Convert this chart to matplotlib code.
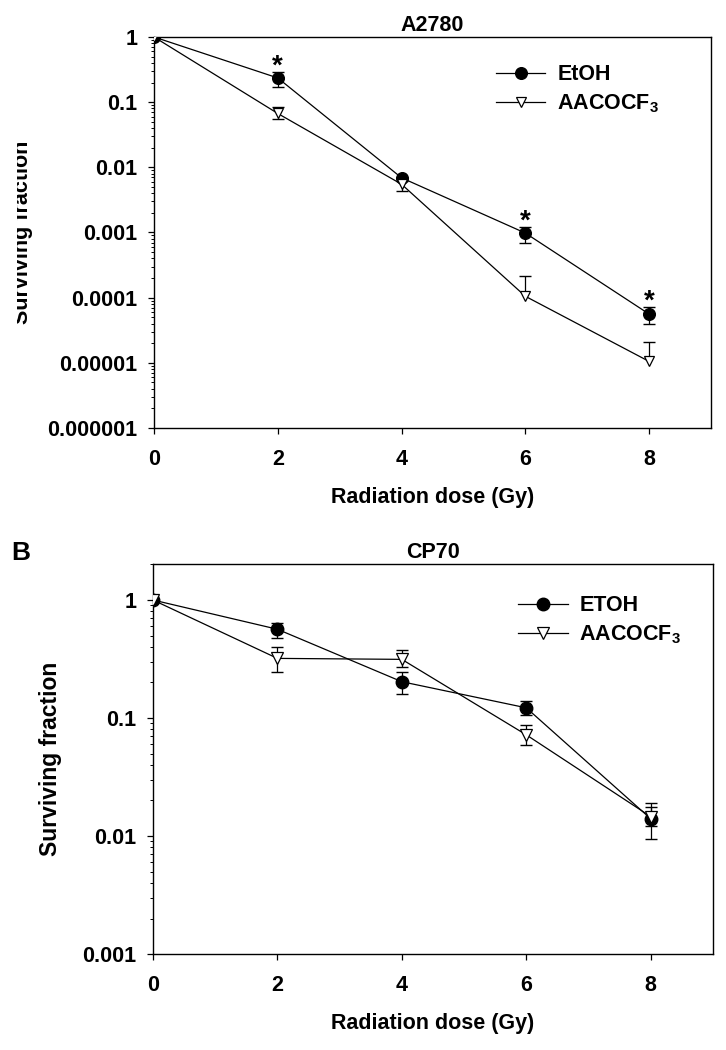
import numpy as np
import matplotlib
matplotlib.use("Agg")
import matplotlib.pyplot as plt
from matplotlib.patches import Rectangle
from matplotlib.ticker import FixedLocator, FixedFormatter, LogLocator, NullFormatter

plt.rcParams['font.family'] = ['Liberation Sans', 'DejaVu Sans']
plt.rcParams['font.weight'] = 'bold'
plt.rcParams['mathtext.fontset'] = 'custom'
plt.rcParams['mathtext.rm'] = 'Liberation Sans:bold'
plt.rcParams['mathtext.bf'] = 'Liberation Sans:bold'

nan = np.nan
dose = [0, 2, 4, 6, 8]
labels_a = ['EtOH', r'AACOCF$_\mathbf{3}$']
labels_b = ['ETOH', r'AACOCF$_\mathbf{3}$']

# panel A: A2780
a_etoh = [1.0, 0.235, 0.0069, 0.00098, 0.000056]
a_etoh_lo = [nan, 0.17, nan, 0.00070, 0.000039]
a_etoh_hi = [nan, 0.29, nan, 0.00123, 0.000073]
a_aaco = [1.0, 0.067, 0.0055, 0.000105, 0.0000105]
a_aaco_lo = [nan, 0.056, 0.0043, nan, nan]
a_aaco_hi = [nan, 0.083, 0.0062, 0.000215, 0.000021]
sig_a = [2, 6, 8]

# panel B: CP70
b_etoh = [1.0, 0.565, 0.203, 0.122, 0.014]
b_etoh_lo = [nan, 0.48, 0.16, 0.106, 0.0095]
b_etoh_hi = [nan, 0.64, 0.247, 0.139, 0.0177]
b_aaco = [1.0, 0.32, 0.314, 0.072, 0.0146]
b_aaco_lo = [nan, 0.244, 0.27, 0.059, 0.0122]
b_aaco_hi = [nan, 0.40, 0.377, 0.087, 0.019]

yticks_a = [1e-6, 1e-5, 1e-4, 1e-3, 1e-2, 1e-1, 1]
yticklabels_a = ['0.000001', '0.00001', '0.0001', '0.001', '0.01', '0.1', '1']
yticks_b = [1e-3, 1e-2, 1e-1, 1]
yticklabels_b = ['0.001', '0.01', '0.1', '1']
xticks = [0, 2, 4, 6, 8]


def errbars(ax, x, y, lo, hi):
    x = np.array(x, float)
    y = np.array(y, float)
    lo = np.array(lo, float)
    hi = np.array(hi, float)
    bottom = np.where(np.isnan(lo), y, lo)
    top = np.where(np.isnan(hi), y, hi)
    ax.vlines(x, bottom, top, color='k', lw=0.9, zorder=2)
    ax.plot(x, lo, ls='none', marker='_', ms=8.8, mew=1.0, color='k', zorder=2)
    ax.plot(x, hi, ls='none', marker='_', ms=8.8, mew=1.0, color='k', zorder=2)


def panel(ax, etoh, elo, ehi, aaco, alo, ahi, labels, title, yticks, ylabels, ylim, cms, tms, legpos):
    errbars(ax, dose, etoh, elo, ehi)
    errbars(ax, dose, aaco, alo, ahi)
    ax.plot(dose, etoh, color='k', lw=0.9, marker='o', ms=cms, mfc='k', mec='k',
            label=labels[0], zorder=3)
    ax.plot(dose, aaco, color='k', lw=0.9, marker='v', ms=tms, mfc='white', mec='k',
            mew=0.9, label=labels[1], zorder=4)
    ax.set_yscale('log')
    ax.set_ylim(*ylim)
    ax.set_xlim(0, 9)
    ax.yaxis.set_major_locator(FixedLocator(yticks))
    ax.yaxis.set_major_formatter(FixedFormatter(ylabels))
    ax.yaxis.set_minor_locator(LogLocator(base=10, subs=np.arange(2, 10)))
    ax.yaxis.set_minor_formatter(NullFormatter())
    ax.set_xticks(xticks)
    ax.set_xticklabels([str(t) for t in xticks])
    ax.tick_params(axis='both', which='major', direction='out', length=4, width=0.9,
                   labelsize=15.5, top=False, right=False)
    ax.tick_params(axis='y', which='major', pad=8)
    ax.tick_params(axis='x', which='major', pad=11)
    ax.tick_params(axis='y', which='minor', direction='out', length=2.2, width=0.7)
    for s in ax.spines.values():
        s.set_linewidth(1.0)
    ax.set_title(title, fontsize=15.5, fontweight='bold', pad=4)
    ax.set_xlabel('Radiation dose (Gy)', fontsize=15.5, fontweight='bold')
    ax.xaxis.set_label_coords(0.5, -0.15)
    ax.legend(loc='upper left', bbox_to_anchor=legpos, frameon=False, fontsize=15.5,
              numpoints=1, handlelength=2.3, handletextpad=0.55, labelspacing=0.35,
              borderpad=0, borderaxespad=0)


fig = plt.figure(figsize=(7.26, 10.5), dpi=100)
ax1 = fig.add_axes([0.2121, 0.5924, 0.7672, 0.3724])
ax2 = fig.add_axes([0.2107, 0.0914, 0.7713, 0.3715])

panel(ax1, a_etoh, a_etoh_lo, a_etoh_hi, a_aaco, a_aaco_lo, a_aaco_hi, labels_a,
      'A2780', yticks_a, yticklabels_a, (1e-6, 1), 8.4, 7.5, (0.614, 0.93))
panel(ax2, b_etoh, b_etoh_lo, b_etoh_hi, b_aaco, b_aaco_lo, b_aaco_hi, labels_b,
      'CP70', yticks_b, yticklabels_b, (1e-3, 2.02), 9.0, 8.4, (0.652, 0.92))

# significance stars above EtOH upper error bars
for xs in sig_a:
    i = dose.index(xs)
    ax1.annotate('*', xy=(xs, a_etoh_hi[i]), xytext=(0, -1.5), textcoords='offset points',
                 ha='center', va='baseline', fontsize=20, fontweight='bold')

ax1.set_ylabel('Surviving fraction', fontsize=15.5, fontweight='bold')
ax1.yaxis.set_label_coords(-0.217, 0.5)
ax2.set_ylabel('Surviving fraction', fontsize=16.5, fontweight='bold')
ax2.yaxis.set_label_coords(-0.1625, 0.5)

fig.text(0.016, 0.473, 'B', fontsize=19, fontweight='bold', va='center', ha='left')

# the original image is cropped at the left edge of panel A's axis label
fig.patches.append(Rectangle((0, 0.55), 17 / 726, 0.45, transform=fig.transFigure,
                             facecolor='white', edgecolor='none', zorder=10))

fig.savefig('out.png', dpi=100)
